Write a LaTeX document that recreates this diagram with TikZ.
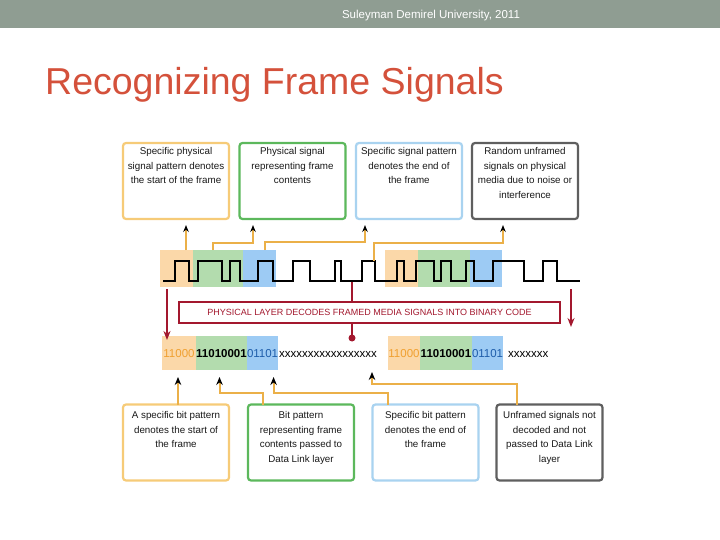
\documentclass[tikz,border=0pt]{standalone}
\usepackage{fontspec}
\setmainfont{Liberation Sans}
\usepackage{tikz}
\usetikzlibrary{arrows.meta,positioning}
\definecolor{hdrgray}{HTML}{8F9D92}
\definecolor{titlered}{HTML}{D4513B}
\definecolor{boxorange}{HTML}{F6CB78}
\definecolor{boxgreen}{HTML}{5CB85C}
\definecolor{boxblue}{HTML}{A9D3F0}
\definecolor{boxgray}{HTML}{5F5F5F}
\definecolor{bgorange}{HTML}{FBD8A9}
\definecolor{bggreen}{HTML}{B3DCAE}
\definecolor{bgblue}{HTML}{9DCBF4}
\definecolor{bitorange}{HTML}{F0A030}
\definecolor{bitblue}{HTML}{1E5DAA}
\definecolor{linkorange}{HTML}{EBB048}
\definecolor{decred}{HTML}{A3182E}
\newcommand{\notetext}[2]{\parbox[c][76pt][t]{106pt}{\centering\rule{0pt}{#1}#2}}

\begin{document}
\begin{tikzpicture}[x=1pt, y=-1pt,
  note/.style={draw, rounded corners=3pt, line width=2.2pt, fill=white, inner sep=0pt, outer sep=0pt, text=black!90, font=\fontsize{9.8}{14.5}\selectfont},
  wavebg/.style={inner sep=0pt, outer sep=0pt, minimum height=37pt},
  bits/.style={inner sep=0pt, outer sep=0pt, minimum height=34pt, text height=8.3pt, text depth=0pt, font=\fontsize{11.5}{12}\selectfont},
  toplink/.style={draw=linkorange, line width=1.1pt, -{Stealth[black,length=7pt,width=5.5pt]}, shorten >=6pt},
  botlink/.style={draw=linkorange, line width=2pt, -{Stealth[black,length=8pt,width=6.5pt]}, shorten >=7pt},
  redarrow/.style={draw=decred, line width=1.6pt, -{Stealth[length=9pt,width=7pt]}}]
\useasboundingbox (0,0) rectangle (720,540);
\fill[hdrgray] (0,0) rectangle (720,28);
\node[anchor=base, text=white, font=\fontsize{11.5}{12}\selectfont] (uni) at (431,19) {Suleyman Demirel University, 2011};
\node[anchor=base west, inner sep=0pt, text=titlered, font=\fontsize{37.5}{40}\selectfont] (title) at (45,95) {Recognizing Frame Signals};

\node[note, draw=boxorange] (tstart) at (176,181) {\notetext{12pt}{Specific physical\\signal pattern denotes\\the start of the frame}};
\node[note, draw=boxgreen] (tbody) at (292.5,181) {\notetext{12pt}{Physical signal\\representing frame\\contents}};
\node[note, draw=boxblue] (tend) at (409,181) {\notetext{12pt}{Specific signal pattern\\denotes the end of\\the frame}};
\node[note, draw=boxgray] (tnoise) at (525,181) {\notetext{12pt}{Random unframed\\signals on physical\\media due to noise or\\interference}};

\node[wavebg, fill=bgorange, minimum width=33pt] (wA1) at (176.5,268.5) {};
\node[wavebg, fill=bggreen, minimum width=50pt, right=0pt of wA1] (wA2) {};
\node[wavebg, fill=bgblue, minimum width=33pt, right=0pt of wA2] (wA3) {};
\node[wavebg, fill=bgorange, minimum width=33pt] (wB1) at (401.5,268.5) {};
\node[wavebg, fill=bggreen, minimum width=52pt, right=0pt of wB1] (wB2) {};
\node[wavebg, fill=bgblue, minimum width=32pt, right=0pt of wB2] (wB3) {};

\coordinate (pin) at (352,338);
\draw[decred, line width=2pt] (352,282) -- (pin);
\fill[decred] (pin) circle (3.5);

\draw[line width=2.8pt, line join=miter] (163,281) -| (175,261) -| (189,281) -| (198,261) -| (222,281) -| (230,261) -| (240,281) -| (258,261) -| (273,281) -| (293,261) -| (310,281) -| (335,261) -| (341,281) -| (362,261) -| (375,281) -| (397,261) -| (404,281) -| (416,261) -| (434,281) -| (441,261) -| (451,281) -| (466,261) -| (474,281) -| (493,261) -| (524,281) -| (543,261) -| (557,281) -- (580,281);

\coordinate (u1) at (186,250);
\coordinate (u2) at (213,250);
\coordinate (u3) at (265,250);
\coordinate (u4) at (374,261);
\draw[toplink] (u1) -- (u1 |- tstart.south);
\draw[toplink] (u2) -- ++(0,-7) -| ([xshift=-39.5pt]tbody.south);
\draw[toplink] (u3) -- ++(0,-8) -| ([xshift=-44pt]tend.south);
\draw[toplink] (u4) -- ++(0,-18) -| ([xshift=-22pt]tnoise.south);

\node[draw=decred, line width=2pt, fill=white, minimum width=381pt, minimum height=21pt, inner sep=0pt, text=decred, font=\fontsize{9}{10}\selectfont] (decode) at (369.5,312.5) {PHYSICAL LAYER DECODES FRAMED MEDIA SIGNALS INTO BINARY CODE};

\node[bits, fill=bgorange, text=bitorange, minimum width=34pt] (bA1) at (179,353) {11000};
\node[bits, fill=bggreen, minimum width=51pt, right=0pt of bA1] (bA2) {\bfseries 11010001};
\node[bits, fill=bgblue, text=bitblue, minimum width=31pt, right=0pt of bA2] (bA3) {01101};
\node[bits, right=1pt of bA3] (bX1) {xxxxxxxxxxxxxxxxx};
\node[bits, fill=bgorange, text=bitorange, minimum width=32pt] (bB1) at (404,353) {11000};
\node[bits, fill=bggreen, minimum width=52pt, right=0pt of bB1] (bB2) {\bfseries 11010001};
\node[bits, fill=bgblue, text=bitblue, minimum width=31pt, right=0pt of bB2] (bB3) {01101};
\node[bits, right=5pt of bB3] (bX2) {xxxxxxx};

\coordinate (rl) at (167,289);
\coordinate (rr) at (571,289);
\draw[redarrow] (rl) -- ([yshift=-4pt]rl |- bA1.north);
\draw[redarrow] (rr) -- (571,327);

\node[note, draw=boxorange] (bstart) at (176,442.5) {\notetext{14pt}{A specific bit pattern\\denotes the start of\\the frame}};
\node[note, draw=boxgreen] (bbody) at (301,442.5) {\notetext{14pt}{Bit pattern\\representing frame\\contents passed to\\Data Link layer}};
\node[note, draw=boxblue] (bend) at (425.5,442.5) {\notetext{14pt}{Specific bit pattern\\denotes the end of\\the frame}};
\node[note, draw=boxgray] (bnoise) at (549.5,442.5) {\notetext{14pt}{Unframed signals not\\decoded and not\\passed to Data Link\\layer}};

\draw[botlink] ([xshift=2pt]bstart.north) -- ([xshift=2pt]bstart.north |- bA1.south);
\draw[botlink] ([xshift=-38pt]bbody.north) -- ++(0,-12) -| ([xshift=-2pt]bA2.south);
\draw[botlink] ([xshift=-37.5pt]bend.north) -- ++(0,-12) -| ([xshift=11pt]bA3.south);
\draw[botlink, shorten >=2pt] ([xshift=-32.5pt]bnoise.north) -- ++(0,-21) -| ([xshift=44pt]bX1.south);
\end{tikzpicture}
\end{document}
